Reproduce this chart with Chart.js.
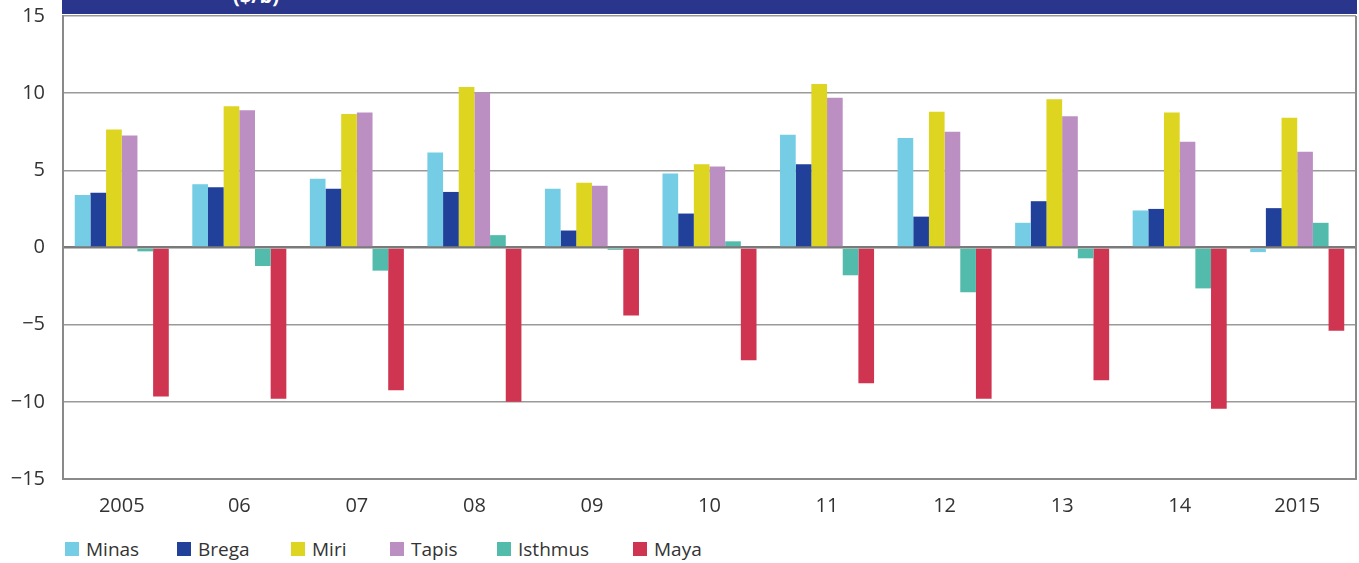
<!DOCTYPE html>
<html>
<head>
<meta charset="utf-8">
<script src="https://cdn.jsdelivr.net/npm/chart.js@4.4.1/dist/chart.umd.min.js"></script>
<style>
  body { margin: 0; background: #fff; font-family: "Open Sans", "Noto Sans", sans-serif; }
  #wrap { position: relative; width: 1359px; height: 563px; overflow: hidden; }
  #box { position: absolute; left: 0; top: -14px; width: 1359px; height: 544px; }
  /* banner on top of the plot, its title is cut off by the frame */
  #banner { position: absolute; left: 62px; top: 0; width: 1295px; height: 14px; background: #2a368b; overflow: hidden; }
  #banner span { position: absolute; left: 171px; top: -15px; color: #fff; font-weight: bold; font-size: 20px; line-height: 22px; }
  #legend { position: absolute; left: 0; top: 537px; width: 1359px; height: 24px; font-size: 19px; color: #333; }
  #legend div { position: absolute; top: 0; display: flex; align-items: center; height: 24px; }
  #legend i { display: inline-block; width: 14px; height: 14px; margin-right: 7px; }
</style>
</head>
<body>
<div id="wrap">
  <div id="box"><canvas id="chart"></canvas></div>
  <div id="banner"><span>($/b)</span></div>
  <div id="legend"></div>
</div>
<script>
/* --------------- Data --------------------- */
const years = ["2005", "06", "07", "08", "09", "10", "11", "12", "13", "14", "2015"];

const minas   = [3.4, 4.1, 4.45, 6.15, 3.8, 4.8, 7.3, 7.1, 1.6, 2.4, -0.3];
const brega   = [3.55, 3.9, 3.8, 3.6, 1.1, 2.2, 5.4, 2.0, 3.0, 2.5, 2.55];
const miri    = [7.65, 9.15, 8.65, 10.4, 4.2, 5.4, 10.6, 8.8, 9.6, 8.75, 8.4];
const tapis   = [7.25, 8.9, 8.75, 10.05, 4.0, 5.25, 9.7, 7.5, 8.5, 6.85, 6.2];
const isthmus = [-0.25, -1.2, -1.5, 0.8, -0.15, 0.4, -1.8, -2.9, -0.7, -2.65, 1.6];
const maya    = [-9.65, -9.8, -9.25, -10.0, -4.4, -7.3, -8.8, -9.8, -8.6, -10.45, -5.4];

const seriesNames  = ["Minas", "Brega", "Miri", "Tapis", "Isthmus", "Maya"];
const seriesValues = [minas, brega, miri, tapis, isthmus, maya];
const seriesColors = ["#74cde4", "#21409a", "#ddd51f", "#bc8fc3", "#52bbab", "#cf3451"];

/* --------------- Frame plugin (right border) --------------------- */
const framePlugin = {
  id: "frame",
  afterDraw(chart) {
    const { ctx, chartArea } = chart;
    ctx.save();
    ctx.strokeStyle = "#8a8a8a";
    ctx.lineWidth = 2;
    ctx.beginPath();
    ctx.moveTo(chartArea.right, chartArea.top);
    ctx.lineTo(chartArea.right, chartArea.bottom);
    ctx.stroke();
    ctx.restore();
  },
};

/* --------------- Chart --------------------- */
new Chart(document.getElementById("chart"), {
  type: "bar",
  plugins: [framePlugin],
  data: {
    labels: years,
    datasets: seriesNames.map((name, i) => ({
      label: name,
      data: seriesValues[i],
      backgroundColor: seriesColors[i],
      barPercentage: 1,
      categoryPercentage: 0.8,
    })),
  },
  options: {
    responsive: true,
    maintainAspectRatio: false,
    animation: false,
    layout: { padding: { top: 2, right: 3, left: 0, bottom: 0 } },
    plugins: {
      legend: { display: false },
      tooltip: { enabled: false },
    },
    scales: {
      x: {
        grid: { display: false },
        border: { color: "#8a8a8a", width: 2 },
        ticks: { color: "#333", font: { size: 20, family: "Open Sans" }, padding: 7 },
        afterFit: (s) => { s.height = 51; },
      },
      y: {
        min: -15,
        max: 15,
        ticks: {
          stepSize: 5,
          color: "#333",
          font: { size: 20, family: "Open Sans" },
          padding: 18,
          callback: (v) => String(v).replace("-", "\u2212"),
        },
        grid: {
          drawTicks: false,
          color: (c) => (c.tick && c.tick.value === 0 ? "#7a7a7a" : "#9a9a9a"),
          lineWidth: (c) => (c.tick && c.tick.value === 0 ? 2.5 : 1.5),
        },
        border: { color: "#8a8a8a", width: 2 },
        afterFit: (s) => { s.width = 63; },
      },
    },
  },
});

/* --------------- Legend --------------------- */
const legendLeft = [65, 177, 291, 390, 497, 633];
const legend = document.getElementById("legend");
seriesNames.forEach((name, i) => {
  const item = document.createElement("div");
  item.style.left = legendLeft[i] + "px";
  item.innerHTML = `<i style="background:${seriesColors[i]}"></i>${name}`;
  legend.appendChild(item);
});
</script>
</body>
</html>
